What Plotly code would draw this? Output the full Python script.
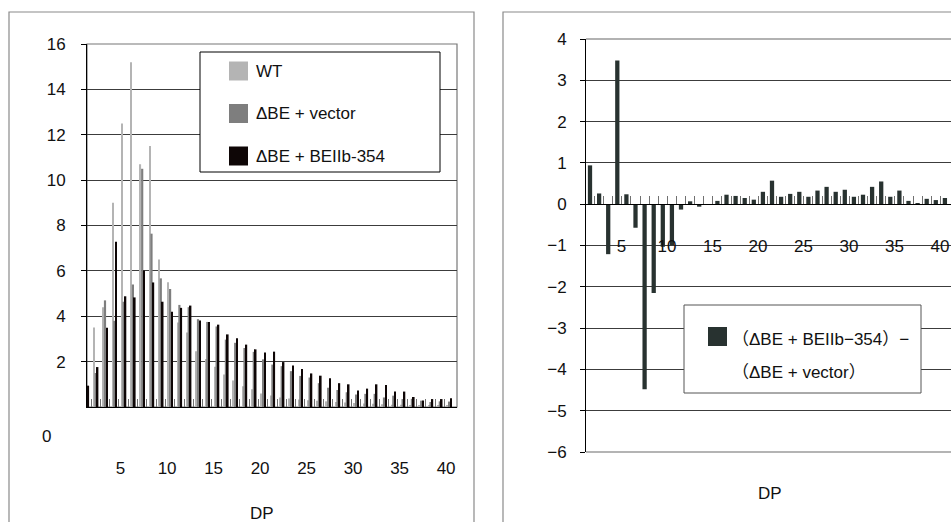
import plotly.graph_objects as go

# Degree of polymerisation (chain length) categories
DP = list(range(1, 41))
DP_LABELS = [5, 10, 15, 20, 25, 30, 35, 40]

# Chain-length distribution (% of total), read per DP
WT = [0, 3.5, 4.4, 9.0, 12.5, 15.2, 10.7, 11.5, 6.5, 5.5,
      3.73, 3.28, 2.46, 2.12, 1.77, 1.43, 1.17, 0.91, 0.78, 0.6,
      0.51, 0.42, 0.38, 0.33, 0.3, 0.28, 0.25, 0.22, 0.2, 0.18,
      0.15, 0.14, 0.12, 0.1, 0.1, 0.08, 0.07, 0.06, 0.05, 0.05]
VECTOR = [0, 1.5, 4.7, 3.8, 4.64, 5.4, 10.5, 7.64, 5.67, 5.2,
          4.5, 4.4, 3.87, 3.75, 3.55, 2.97, 2.83, 2.6, 2.43, 2.1,
          1.87, 1.8, 1.58, 1.37, 1.3, 1.05, 0.85, 0.75, 0.65, 0.55,
          0.58, 0.58, 0.42, 0.5, 0.35, 0.36, 0.28, 0.22, 0.25, 0.24]
BEIIB = [0.94, 1.76, 3.49, 7.28, 4.88, 4.83, 6.02, 5.49, 4.64, 4.2,
         4.37, 4.47, 3.81, 3.75, 3.63, 3.2, 3.03, 2.75, 2.54, 2.4,
         2.44, 1.98, 1.83, 1.67, 1.48, 1.38, 1.27, 1.05, 1.0, 0.73,
         0.81, 1.0, 0.97, 0.68, 0.68, 0.44, 0.29, 0.35, 0.35, 0.39]
# Difference (ΔBE + BEIIb-354) − (ΔBE + vector)
DIFF = [0.94, 0.26, -1.21, 3.48, 0.24, -0.57, -4.48, -2.15, -1.03, -1.0,
        -0.13, 0.07, -0.06, 0.0, 0.08, 0.23, 0.2, 0.15, 0.11, 0.3,
        0.57, 0.18, 0.25, 0.3, 0.18, 0.33, 0.42, 0.3, 0.35, 0.18,
        0.23, 0.42, 0.55, 0.18, 0.33, 0.08, 0.01, 0.13, 0.1, 0.15]

SERIES = [("WT", WT, "#b4b4b4"),
          ("ΔBE + vector", VECTOR, "#7e7e7e"),
          ("ΔBE + BEIIb-354", BEIIB, "#0e0606")]
DIFF_NAME = ["（ΔBE + BEIIb−354）−", "（ΔBE + vector）"]
DIFF_COLOR = "#283230"

W, H = 951, 522
FONT = "Liberation Sans, Arial, Noto Sans CJK JP, sans-serif"
GRID = "#3c3c3c"
FRAME = "#8a8a8a"


def px(x):
    return x / W


def py(y):
    return 1 - y / H


fig = go.Figure()

# left panel: three series side by side within each DP slot
bar_geom = [(-0.247, 0.129), (-0.118, 0.236), (0.118, 0.172)]
for (name, vals, color), (off, wid) in zip(SERIES, bar_geom):
    fig.add_trace(go.Bar(x=DP, y=vals, name=name, marker_color=color,
                         marker_line_width=0, offset=off, width=wid,
                         xaxis="x", yaxis="y", showlegend=False))

# right panel: difference bars
fig.add_trace(go.Bar(x=DP, y=DIFF, marker_color=DIFF_COLOR, marker_line_width=0,
                     width=0.47, xaxis="x2", yaxis="y2", showlegend=False))

boundaries = [d + 0.5 for d in DP[:-1]]

common_x = dict(tickmode="array", tickvals=DP_LABELS, ticks="", showgrid=False,
                zeroline=False, showline=True, linecolor="#000000", linewidth=1,
                automargin=False, ticklabeloverflow="allow",
                tickfont=dict(family=FONT, size=17, color="#111"),
                minor=dict(tickmode="array", tickvals=boundaries, ticks="inside",
                           ticklen=8, tickcolor="#707070", tickwidth=1, showgrid=False))

common_y = dict(tickmode="array", ticks="outside", ticklen=5, tickcolor="#000",
                showline=True, linecolor="#000", linewidth=1,
                showgrid=True, gridcolor=GRID, gridwidth=1, zeroline=False,
                automargin=False,
                tickfont=dict(family=FONT, size=17, color="#111"))

L_TOP, L_BOT, L_LEFT, L_RIGHT = 44, 407, 87, 457
R_TOP, R_BOT, R_LEFT = 39, 452, 586

fig.update_layout(
    width=W, height=H, margin=dict(l=0, r=0, t=0, b=0, autoexpand=False),
    template="none",
    paper_bgcolor="white", plot_bgcolor="white", barmode="overlay",
    font=dict(family=FONT, size=17, color="#111"),
    xaxis=dict(domain=[px(L_LEFT), px(L_RIGHT)], range=[1.065, 40.85],
               anchor="y", ticklabelstandoff=46, ticklabelshift=-3, **common_x),
    yaxis=dict(domain=[py(L_BOT), py(L_TOP)], range=[0, 16], anchor="x",
               tickvals=[2, 4, 6, 8, 10, 12, 14, 16], ticklabelstandoff=12,
               **common_y),
    xaxis2=dict(domain=[px(R_LEFT), 1.0], range=[0.56, 40.67],
                anchor="free", position=py(R_BOT) + (py(R_TOP) - py(R_BOT)) * 0.6,
                ticklabelstandoff=26, ticklabelshift=-5, **common_x),
    yaxis2=dict(domain=[py(R_BOT), py(R_TOP)], range=[-6, 4], anchor="x2",
                tickvals=list(range(-6, 5)), ticklabelstandoff=10, **common_y),
)

shapes = []
# panel frames
shapes.append(dict(type="rect", xref="paper", yref="paper",
                   x0=px(9), x1=px(474), y0=-0.05, y1=py(12),
                   line=dict(color=FRAME, width=1.2), layer="below"))
shapes.append(dict(type="rect", xref="paper", yref="paper",
                   x0=px(503), x1=1.05, y0=-0.05, y1=py(12),
                   line=dict(color=FRAME, width=1.2), layer="below"))
# plot-area borders
shapes.append(dict(type="rect", xref="paper", yref="paper",
                   x0=px(L_LEFT), x1=px(L_RIGHT), y0=py(L_BOT), y1=py(L_TOP),
                   line=dict(color="#777", width=1.2), layer="below"))
shapes.append(dict(type="line", xref="paper", yref="paper",
                   x0=px(R_LEFT), x1=1.0, y0=py(R_TOP), y1=py(R_TOP),
                   line=dict(color="#666", width=1.2)))
shapes.append(dict(type="line", xref="paper", yref="paper",
                   x0=px(R_LEFT), x1=1.0, y0=py(R_BOT), y1=py(R_BOT),
                   line=dict(color="#6a6a6a", width=1.2)))

annotations = []
# the zero label of the left value axis sits below the axis
annotations.append(dict(text="0", xref="paper", yref="paper", x=px(46), y=py(436),
                        showarrow=False, font=dict(size=17), xanchor="center", yanchor="middle"))
# axis titles
annotations.append(dict(text="DP", xref="paper", yref="paper", x=px(262), y=py(513),
                        showarrow=False, font=dict(size=17), xanchor="center", yanchor="middle"))
annotations.append(dict(text="DP", xref="paper", yref="paper", x=px(770), y=py(493),
                        showarrow=False, font=dict(size=17), xanchor="center", yanchor="middle"))

# left legend
shapes.append(dict(type="rect", xref="paper", yref="paper",
                   x0=px(200), x1=px(440), y0=py(172), y1=py(52),
                   line=dict(color="#000", width=1), fillcolor="white"))
for i, (name, _, color) in enumerate(SERIES):
    yc = 71 + i * 42.5
    shapes.append(dict(type="rect", xref="paper", yref="paper",
                       x0=px(229), x1=px(248), y0=py(yc + 9.5), y1=py(yc - 9.5),
                       line=dict(width=0), fillcolor=color))
    annotations.append(dict(text=name, xref="paper", yref="paper", x=px(254), y=py(yc),
                            showarrow=False, xanchor="left", yanchor="middle",
                            font=dict(size=17)))

# right legend
shapes.append(dict(type="rect", xref="paper", yref="paper",
                   x0=px(684), x1=px(921), y0=py(393), y1=py(305),
                   line=dict(color="#555", width=1), fillcolor="white"))
shapes.append(dict(type="rect", xref="paper", yref="paper",
                   x0=px(708), x1=px(727), y0=py(346), y1=py(327),
                   line=dict(width=0), fillcolor=DIFF_COLOR))
annotations.append(dict(text=DIFF_NAME[0], xref="paper", yref="paper", x=px(730), y=py(339),
                        showarrow=False, xanchor="left", yanchor="middle", font=dict(size=17)))
annotations.append(dict(text=DIFF_NAME[1], xref="paper", yref="paper", x=px(730), y=py(372),
                        showarrow=False, xanchor="left", yanchor="middle", font=dict(size=17)))

fig.update_layout(shapes=shapes, annotations=annotations)
fig.write_html("out.html")
